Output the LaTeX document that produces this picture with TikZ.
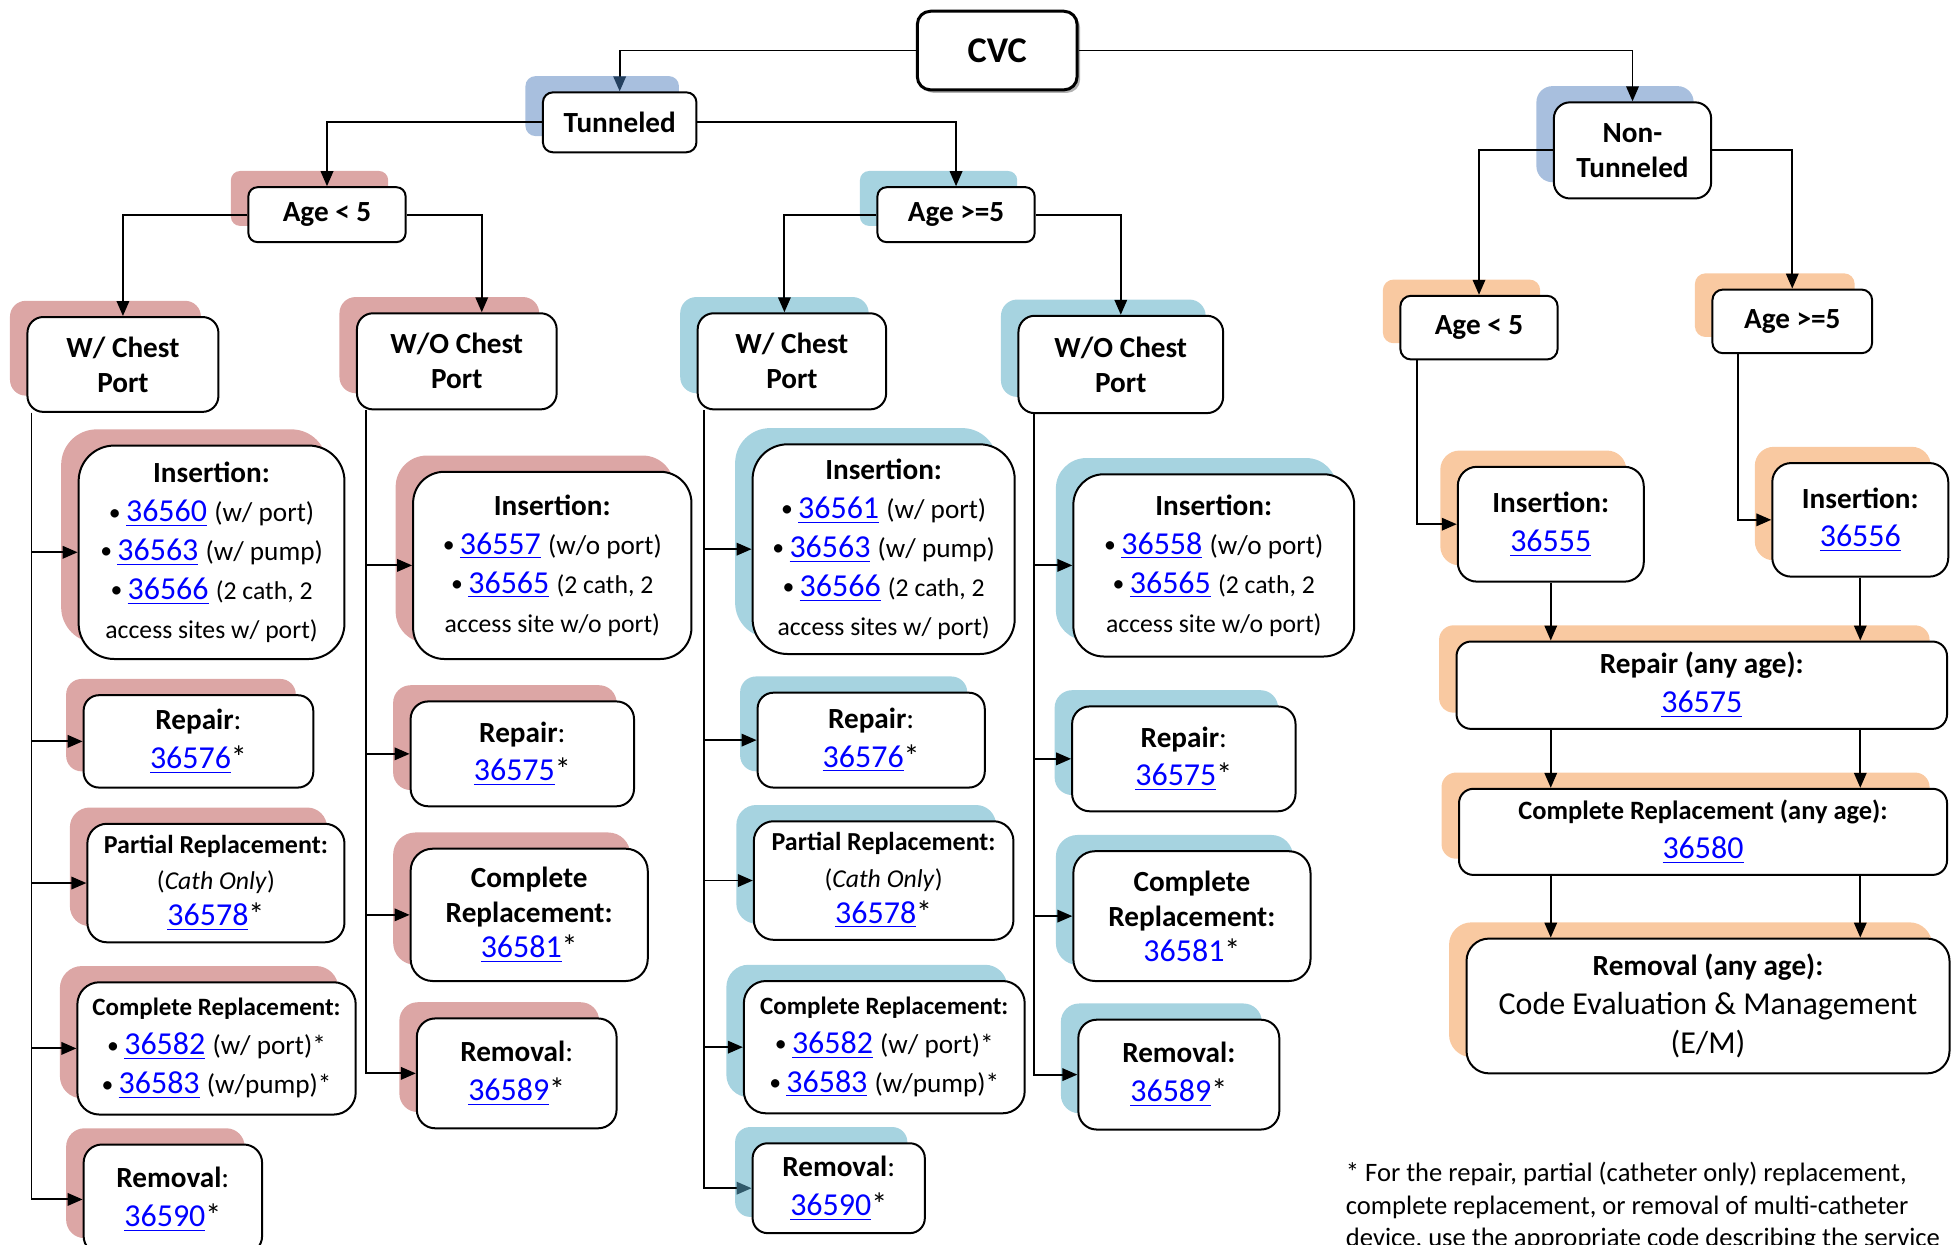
\documentclass[tikz,border=0pt]{standalone}
\usepackage{fontspec}
\setmainfont{Carlito}
\usepackage{xcolor}
\usepackage{tikz}
\usetikzlibrary{positioning,calc,shadows,arrows.meta}

\definecolor{tunshade}{HTML}{A8BFDE}
\definecolor{pinkshade}{HTML}{DCA6A5}
\definecolor{blueshade}{HTML}{A6D3E0}
\definecolor{peachshade}{HTML}{F9C9A1}
\definecolor{linkblue}{HTML}{0000FF}
\definecolor{tipnavy}{HTML}{24405F}
\definecolor{tipteal}{HTML}{30596A}

\newcommand{\cpt}[1]{\textcolor{linkblue}{\underline{#1}}}
\newcommand{\cptn}[1]{\textcolor{linkblue}{#1}}
\newcommand{\hdr}[2][11.7]{{\fontsize{#1}{14}\selectfont\bfseries #2}}
\newcommand{\hdc}[1]{{\fontsize{11.7}{14}\selectfont\textbf{#1}:}}
\newcommand{\dsc}[1]{{\fontsize{10.9}{14}\selectfont #1}}
\newcommand{\sml}[1]{{\fontsize{10.3}{13}\selectfont #1}}
\newcommand{\bul}{\raisebox{0.6pt}{\fontsize{9.5}{12}\selectfont•}\,}

\tikzset{
    bx/.style={draw, line width=0.8pt, fill=white, align=center, inner sep=2pt, font=\fontsize{12.8}{15.6}\selectfont},
    sz/.style 2 args={minimum width=#1*0.5pt, minimum height=#2*0.5pt, rounded corners={min(#1,#2)/12*1pt}},
    lvl/.style={bx, font=\fontsize{11.7}{14}\selectfont\bfseries},
    tunsh/.style={general shadow={fill=tunshade, shadow xshift=-7pt, shadow yshift=6.5pt}},
    pinksh/.style={general shadow={fill=pinkshade, shadow xshift=-7pt, shadow yshift=6.5pt}},
    bluesh/.style={general shadow={fill=blueshade, shadow xshift=-7pt, shadow yshift=6.5pt}},
    peachsh/.style={general shadow={fill=peachshade, shadow xshift=-7pt, shadow yshift=6.5pt}},
    arr/.style={line width=0.75pt, -{Triangle[length=6pt,width=5pt]}}
}

\begin{document}
\begin{tikzpicture}[x=0.5pt, y=-0.5pt]
    \useasboundingbox (0,0) rectangle (1568,997);

    \node [bx, sz={128}{63}, line width=1.2pt, general shadow={fill=gray!60, shadow xshift=1.2pt, shadow yshift=-1.2pt}, font=\fontsize{14.5}{17}\selectfont\bfseries] (cvc) at (799,40.5) {CVC};
    \node [lvl, sz={123}{48}, tunsh] (tun) at (496.5,98) {Tunneled};
    \node [lvl, sz={126}{77}, tunsh] (ntun) at (1308,120.5) {Non-\\Tunneled};

    \node [lvl, sz={126}{44}, pinksh] (ageA) at (262,172) {Age < 5};
    \node [lvl, sz={126}{44}, bluesh] (ageB) at (766,172) {Age >=5};
    \node [lvl, sz={126}{51}, peachsh] (ageC) at (1185,262.5) {Age < 5};
    \node [lvl, sz={128}{51}, peachsh] (ageD) at (1436,257.5) {Age >=5};

    \node [lvl, sz={153}{76}, pinksh] (wcA) at (98.5,292) {W/ Chest\\Port};
    \node [lvl, sz={160}{77}, pinksh] (wocA) at (366,289.5) {W/O Chest\\Port};
    \node [lvl, sz={151}{77}, bluesh] (wcB) at (634.5,289.5) {W/ Chest\\Port};
    \node [lvl, sz={164}{78}, bluesh] (wocB) at (898,292) {W/O Chest\\Port};

    \node [bx, sz={213}{171}, pinksh] (insA1) at (169.5,442.5) {\hdr{Insertion:}\\\bul \cpt{36560} \dsc{(w/ port)}\\\bul \cpt{36563} \dsc{(w/ pump)}\\\bul \cpt{36566} \sml{(2 cath, 2}\\\sml{access sites w/ port)}};
    \node [bx, sz={184}{74}, pinksh] (repA1) at (159,594) {\hdc{Repair}\\\cpt{36576}*};
    \node [bx, sz={206}{95}, pinksh, font=\fontsize{12.8}{14.5}\selectfont] (parA1) at (173,707.5) {\hdr[10.4]{Partial Replacement:}\\\sml{(\textit{Cath Only})}\\\cpt{36578}*};
    \node [bx, sz={223}{106}, pinksh] (comA1) at (173.5,840) {\hdr[10]{Complete Replacement:}\\\bul \cpt{36582} \dsc{(w/ port)*}\\\bul \cpt{36583} \dsc{(w/pump)*}};
    \node [bx, sz={143}{88}, pinksh] (remA1) at (138.5,961) {\hdc{Removal}\\\cpt{36590}*};

    \node [bx, sz={223}{150}, pinksh] (insA2) at (442.5,453) {\hdr{Insertion:}\\\bul \cpt{36557} \dsc{(w/o port)}\\\bul \cpt{36565} \sml{(2 cath, 2}\\\sml{access site w/o port)}};
    \node [bx, sz={179}{84}, pinksh] (repA2) at (418.5,604) {\hdc{Repair}\\\cpt{36575}*};
    \node [bx, sz={190}{106}, pinksh, font=\fontsize{12.8}{14}\selectfont] (comA2) at (424,733) {\hdr{Complete}\\\hdr{Replacement:}\\\cpt{36581}*};
    \node [bx, sz={160}{88}, pinksh] (remA2) at (414,860) {\hdc{Removal}\\\cpt{36589}*};

    \node [bx, sz={210}{168}, bluesh] (insB1) at (708,440) {\hdr{Insertion:}\\\bul \cpt{36561} \dsc{(w/ port)}\\\bul \cpt{36563} \dsc{(w/ pump)}\\\bul \cpt{36566} \sml{(2 cath, 2}\\\sml{access sites w/ port)}};
    \node [bx, sz={182}{76}, bluesh] (repB1) at (698,593) {\hdc{Repair}\\\cpt{36576}*};
    \node [bx, sz={208}{95}, bluesh, font=\fontsize{12.8}{14.5}\selectfont] (parB1) at (708,705.5) {\hdr[10.4]{Partial Replacement:}\\\sml{(\textit{Cath Only})}\\\cpt{36578}*};
    \node [bx, sz={225}{106}, bluesh] (comB1) at (708.5,839) {\hdr[10]{Complete Replacement:}\\\bul \cpt{36582} \dsc{(w/ port)*}\\\bul \cpt{36583} \dsc{(w/pump)*}};
    \node [bx, sz={138}{72}, bluesh] (remB1) at (672,952) {\hdc{Removal}\\\cpt{36590}*};

    \node [bx, sz={225}{146}, bluesh] (insB2) at (972.5,453) {\hdr{Insertion:}\\\bul \cpt{36558} \dsc{(w/o port)}\\\bul \cpt{36565} \sml{(2 cath, 2}\\\sml{access site w/o port)}};
    \node [bx, sz={179}{84}, bluesh] (repB2) at (948.5,608) {\hdc{Repair}\\\cpt{36575}*};
    \node [bx, sz={190}{104}, bluesh, font=\fontsize{12.8}{14}\selectfont] (comB2) at (955,734) {\hdr{Complete}\\\hdr{Replacement:}\\\cptn{36581}*};
    \node [bx, sz={161}{88}, bluesh] (remB2) at (944.5,861) {\hdr{Removal:}\\\cpt{36589}*};

    \node [bx, sz={149}{92}, peachsh] (insC) at (1242.5,420) {\hdr{Insertion:}\\\cpt{36555}};
    \node [bx, sz={141}{91}, peachsh] (insD) at (1490.5,416.5) {\hdr{Insertion:}\\\cpt{36556}};
    \node [bx, sz={393}{70}, peachsh] (repNT) at (1363.5,549) {\hdr{Repair (any age):}\\\cpt{36575}};
    \node [bx, sz={391}{69}, peachsh] (comNT) at (1364.5,666.5) {\hdr[10.6]{Complete Replacement (any age):}\\\cpt{36580}};
    \node [bx, sz={387}{108}, peachsh] (remNT) at (1368.5,806) {\hdr{Removal (any age):}\\Code Evaluation \& Management\\(E/M)};

    \node [anchor=north west, align=left, inner sep=0pt, font=\fontsize{10.65}{13}\selectfont] (note) at (1078,931) {* For the repair, partial (catheter only) replacement,\\complete replacement, or removal of multi-catheter\\device, use the appropriate code describing the service};

    \draw [arr, -{Triangle[length=6pt,width=5pt,color=tipnavy]}] (cvc) -| (tun);
    \draw [arr] (cvc) -| (ntun);
    \draw [arr] (tun) -| (ageA);
    \draw [arr] (tun) -| (ageB);
    \draw [arr] (ntun) -| (ageC);
    \draw [arr] (ntun) -| (ageD);

    \draw [arr] (ageA) -| (wcA);
    \draw [arr] (ageA) -| ([xshift=10pt]wocA.north);
    \draw [arr] (ageB) -| ([xshift=-3pt]wcB.north);
    \draw [arr] (ageB) -| (wocB);

    \draw [arr] ([xshift=2pt]wcA.south west) |- (insA1);
    \draw [arr] ([xshift=2pt]wcA.south west) |- (repA1);
    \draw [arr] ([xshift=2pt]wcA.south west) |- (parA1);
    \draw [arr] ([xshift=2pt]wcA.south west) |- (comA1);
    \draw [arr] ([xshift=2pt]wcA.south west) |- (remA1);

    \draw [arr] ([xshift=4pt]wocA.south west) |- (insA2);
    \draw [arr] ([xshift=4pt]wocA.south west) |- (repA2);
    \draw [arr] ([xshift=4pt]wocA.south west) |- (comA2);
    \draw [arr] ([xshift=4pt]wocA.south west) |- (remA2);

    \draw [arr] ([xshift=3pt]wcB.south west) |- (insB1);
    \draw [arr] ([xshift=3pt]wcB.south west) |- (repB1);
    \draw [arr] ([xshift=3pt]wcB.south west) |- (parB1);
    \draw [arr] ([xshift=3pt]wcB.south west) |- (comB1);
    \draw [arr, -{Triangle[length=6pt,width=5pt,color=tipteal]}] ([xshift=3pt]wcB.south west) |- (remB1);

    \draw [arr] ([xshift=6.5pt]wocB.south west) |- (insB2);
    \draw [arr] ([xshift=6.5pt]wocB.south west) |- (repB2);
    \draw [arr] ([xshift=6.5pt]wocB.south west) |- (comB2);
    \draw [arr] ([xshift=6.5pt]wocB.south west) |- (remB2);

    \draw [arr] ([xshift=7pt]ageC.south west) |- (insC);
    \draw [arr] ([xshift=10.5pt]ageD.south west) |- (insD);

    \draw [arr] (insC) -- (insC |- repNT.north);
    \draw [arr] (insD) -- (insD |- repNT.north);
    \draw [arr] (insC |- repNT.south) -- (insC |- comNT.north);
    \draw [arr] (insD |- repNT.south) -- (insD |- comNT.north);
    \draw [arr] (insC |- comNT.south) -- (insC |- remNT.north);
    \draw [arr] (insD |- comNT.south) -- (insD |- remNT.north);
\end{tikzpicture}
\end{document}
